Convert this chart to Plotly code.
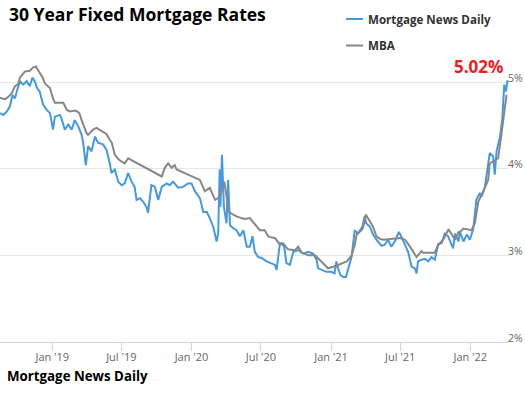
import plotly.graph_objects as go

# ---- data ----
mnd_dates = [
    "2018-08-17", "2018-08-26", "2018-09-04", "2018-09-12", "2018-09-19", "2018-09-25", "2018-09-30",
    "2018-10-04", "2018-10-08", "2018-10-17", "2018-10-26", "2018-11-03", "2018-11-10", "2018-11-16",
    "2018-11-22", "2018-11-29", "2018-12-08", "2018-12-17", "2018-12-26", "2019-01-03", "2019-01-08",
    "2019-01-21", "2019-01-25", "2019-02-03", "2019-02-12", "2019-02-21", "2019-03-01", "2019-03-10",
    "2019-03-19", "2019-03-23", "2019-03-30", "2019-04-05", "2019-04-14", "2019-04-23", "2019-05-01",
    "2019-05-14", "2019-05-23", "2019-06-01", "2019-06-05", "2019-06-14", "2019-06-23", "2019-07-02",
    "2019-07-10", "2019-07-19", "2019-07-28", "2019-08-05", "2019-08-10", "2019-08-19", "2019-08-27",
    "2019-09-05", "2019-09-09", "2019-09-18", "2019-09-27", "2019-10-06", "2019-10-15", "2019-10-28",
    "2019-11-05", "2019-11-14", "2019-11-27", "2019-12-10", "2019-12-23", "2020-01-01", "2020-01-10",
    "2020-01-23", "2020-02-01", "2020-02-10", "2020-02-18", "2020-02-27", "2020-03-07", "2020-03-11",
    "2020-03-15", "2020-03-17", "2020-03-21", "2020-03-26", "2020-04-02", "2020-04-06", "2020-04-11",
    "2020-04-20", "2020-04-28", "2020-05-07", "2020-05-16", "2020-05-25", "2020-06-02", "2020-06-09",
    "2020-06-15", "2020-06-24", "2020-07-03", "2020-07-16", "2020-07-29", "2020-08-07", "2020-08-11",
    "2020-08-20", "2020-08-24", "2020-08-31", "2020-09-06", "2020-09-15", "2020-09-24", "2020-10-07",
    "2020-10-20", "2020-11-02", "2020-11-15", "2020-11-24", "2020-11-28", "2020-12-07", "2020-12-20",
    "2021-01-02", "2021-01-10", "2021-01-15", "2021-01-19", "2021-01-26", "2021-02-02", "2021-02-09",
    "2021-02-15", "2021-02-24", "2021-03-04", "2021-03-12", "2021-03-24", "2021-03-30", "2021-04-03",
    "2021-04-13", "2021-04-21", "2021-04-30", "2021-05-13", "2021-05-21", "2021-05-30", "2021-06-08",
    "2021-06-17", "2021-06-28", "2021-07-05", "2021-07-14", "2021-07-22", "2021-07-31", "2021-08-09",
    "2021-08-13", "2021-08-17", "2021-08-26", "2021-09-04", "2021-09-13", "2021-09-21", "2021-09-30",
    "2021-10-09", "2021-10-18", "2021-10-26", "2021-11-04", "2021-11-17", "2021-11-22", "2021-12-01",
    "2021-12-05", "2021-12-14", "2021-12-23", "2021-12-31", "2022-01-09", "2022-01-17", "2022-01-26",
    "2022-01-31", "2022-02-08", "2022-02-17", "2022-02-21", "2022-03-02", "2022-03-06", "2022-03-11",
    "2022-03-20", "2022-03-26", "2022-03-31", "2022-04-04", "2022-04-09",
]
mnd_rates = [
    4.64, 4.62, 4.66, 4.72, 4.85, 4.81, 4.89,
    4.95, 5.01, 4.97, 5.01, 4.95, 5.05, 5.01,
    4.93, 4.89, 4.74, 4.68, 4.64, 4.45, 4.60,
    4.62, 4.58, 4.45, 4.51, 4.45, 4.56, 4.49,
    4.39, 4.30, 4.04, 4.26, 4.20, 4.37, 4.30,
    4.28, 4.22, 4.06, 3.95, 3.99, 3.85, 3.81,
    3.83, 3.95, 3.85, 3.79, 3.64, 3.66, 3.62,
    3.56, 3.49, 3.81, 3.79, 3.64, 3.79, 3.83,
    3.81, 3.85, 3.78, 3.79, 3.83, 3.83, 3.74,
    3.66, 3.50, 3.50, 3.43, 3.33, 3.16, 3.25,
    3.99, 3.56, 4.16, 3.56, 3.37, 3.87, 3.35,
    3.31, 3.29, 3.22, 3.29, 3.10, 3.10, 3.22,
    3.04, 2.98, 2.97, 2.93, 2.91, 2.89, 2.83,
    3.14, 3.14, 3.10, 2.91, 2.89, 3.04, 3.06,
    3.02, 3.04, 3.02, 2.95, 2.85, 2.83, 2.81,
    2.81, 2.79, 2.93, 2.85, 2.77, 2.75, 2.75,
    2.84, 2.99, 3.29, 3.25, 3.33, 3.45, 3.37,
    3.33, 3.24, 3.18, 3.11, 3.12, 3.18, 3.10,
    3.16, 3.27, 3.21, 3.12, 3.04, 2.87, 2.85,
    2.79, 2.93, 2.95, 2.96, 2.93, 2.98, 2.95,
    3.13, 3.14, 3.25, 3.22, 3.08, 3.25, 3.16,
    3.27, 3.16, 3.24, 3.18, 3.31, 3.64, 3.72,
    3.68, 3.78, 4.10, 4.18, 4.14, 3.93, 4.20,
    4.37, 4.58, 4.97, 4.89, 5.02,
]

mba_dates = [
    "2018-08-17", "2018-08-26", "2018-08-30", "2018-09-08", "2018-09-17", "2018-09-25", "2018-10-04",
    "2018-10-08", "2018-10-15", "2018-10-21", "2018-11-03", "2018-11-12", "2018-11-19", "2018-11-28",
    "2018-12-07", "2018-12-13", "2018-12-26", "2019-01-03", "2019-01-08", "2019-01-21", "2019-01-30",
    "2019-02-08", "2019-02-16", "2019-03-04", "2019-03-13", "2019-03-19", "2019-04-01", "2019-04-05",
    "2019-04-18", "2019-04-27", "2019-05-10", "2019-05-23", "2019-06-01", "2019-06-06", "2019-06-14",
    "2019-06-23", "2019-07-02", "2019-07-10", "2019-07-19", "2019-10-15", "2019-10-23", "2019-11-01",
    "2019-11-10", "2019-11-18", "2019-11-23", "2020-01-23", "2020-02-05", "2020-02-18", "2020-03-03",
    "2020-03-11", "2020-03-20", "2020-03-27", "2020-04-02", "2020-04-06", "2020-04-15", "2020-04-28",
    "2020-05-11", "2020-05-20", "2020-06-02", "2020-06-10", "2020-06-15", "2020-06-24", "2020-06-28",
    "2020-07-11", "2020-07-20", "2020-07-25", "2020-08-07", "2020-08-20", "2020-08-28", "2020-09-10",
    "2020-09-28", "2020-10-07", "2020-10-16", "2020-10-24", "2020-11-02", "2020-11-20", "2020-12-07",
    "2020-12-24", "2021-01-15", "2021-02-02", "2021-02-11", "2021-02-19", "2021-02-24", "2021-03-04",
    "2021-03-09", "2021-03-22", "2021-03-26", "2021-04-02", "2021-04-13", "2021-04-21", "2021-04-30",
    "2021-05-09", "2021-05-18", "2021-07-01", "2021-07-14", "2021-07-27", "2021-08-13", "2021-08-26",
    "2021-08-30", "2021-09-13", "2021-09-30", "2021-10-09", "2021-10-13", "2021-10-22", "2021-11-05",
    "2021-11-17", "2021-11-22", "2021-12-01", "2021-12-05", "2021-12-14", "2021-12-27", "2022-01-04",
    "2022-01-13", "2022-01-22", "2022-01-31", "2022-02-08", "2022-02-17", "2022-02-21", "2022-03-06",
    "2022-03-15", "2022-03-24", "2022-04-02", "2022-04-06",
]
mba_rates = [
    4.82, 4.81, 4.80, 4.83, 4.87, 4.95, 4.98,
    5.05, 5.09, 5.12, 5.13, 5.17, 5.18, 5.12,
    5.05, 4.98, 4.93, 4.81, 4.76, 4.76, 4.76,
    4.68, 4.66, 4.67, 4.64, 4.56, 4.41, 4.39,
    4.45, 4.47, 4.43, 4.40, 4.33, 4.30, 4.16,
    4.11, 4.08, 4.06, 4.12, 3.91, 4.01, 4.06,
    4.01, 4.04, 3.99, 3.87, 3.74, 3.78, 3.64,
    3.66, 3.74, 3.85, 3.68, 3.51, 3.48, 3.45,
    3.43, 3.42, 3.43, 3.39, 3.36, 3.31, 3.29,
    3.29, 3.22, 3.21, 3.20, 3.12, 3.14, 3.07,
    3.06, 3.10, 3.03, 3.02, 3.00, 3.00, 2.92,
    2.85, 2.88, 2.91, 2.93, 2.97, 3.00, 3.12,
    3.24, 3.29, 3.32, 3.47, 3.38, 3.33, 3.22,
    3.19, 3.18, 3.20, 3.18, 3.10, 2.98, 3.05,
    3.03, 3.03, 3.03, 3.12, 3.14, 3.18, 3.30,
    3.22, 3.18, 3.27, 3.27, 3.31, 3.30, 3.29,
    3.37, 3.62, 3.70, 3.78, 3.87, 4.06, 4.10,
    4.12, 4.41, 4.68, 4.85,
]

series_names = ["Mortgage News Daily", "MBA"]
x_tick_dates = ["2019-01-01", "2019-07-01", "2020-01-01", "2020-07-01",
                "2021-01-01", "2021-07-01", "2022-01-01"]
x_tick_labels = ["Jan '19", "Jul '19", "Jan '20", "Jul '20", "Jan '21", "Jul '21", "Jan '22"]
y_ticks = [2, 3, 4, 5]
y_tick_labels = ["2%", "3%", "4%", "5%"]
title_text = "30 Year Fixed Mortgage Rates"
source_text = "Mortgage News Daily"
latest_label = "5.02%"

# ---- styling ----
BLUE = "#4499e4"
GRAY = "#878787"
W, H = 525, 393
ML, MR, MT, MB = 0, 16, 56, 51
PW = W - ML - MR
PH = H - MT - MB


def px_x(p):
    return (p - ML) / PW


def px_y(p):
    return (H - MB - p) / PH


fig = go.Figure()
fig.add_trace(go.Scatter(x=mnd_dates, y=mnd_rates, mode="lines", name=series_names[0],
                         line=dict(color=BLUE, width=2), showlegend=False))
fig.add_trace(go.Scatter(x=mba_dates, y=mba_rates, mode="lines", name=series_names[1],
                         line=dict(color=GRAY, width=2), showlegend=False))

font_main = "Open Sans, Noto Sans, sans-serif"

annotations = [
    dict(text="<b>" + title_text + "</b>", x=px_x(7), y=px_y(14), xref="paper", yref="paper",
         xanchor="left", yanchor="middle", showarrow=False,
         font=dict(family=font_main, size=17.5, color="#000000")),
    dict(text="<b>" + source_text + "</b>", x=px_x(5), y=px_y(376), xref="paper", yref="paper",
         xanchor="left", yanchor="middle", showarrow=False,
         font=dict(family=font_main, size=13.3, color="#000000")),
    dict(text="<b>" + series_names[0] + "</b>", x=px_x(366), y=px_y(19), xref="paper", yref="paper",
         xanchor="left", yanchor="middle", showarrow=False,
         font=dict(family=font_main, size=11.6, color="#333333")),
    dict(text="<b>" + series_names[1] + "</b>", x=px_x(366), y=px_y(45.5), xref="paper", yref="paper",
         xanchor="left", yanchor="middle", showarrow=False,
         font=dict(family=font_main, size=11.6, color="#333333")),
    dict(text="<b>" + latest_label + "</b>", x=mnd_dates[-1], y=mnd_rates[-1], xref="x", yref="y",
         xanchor="right", yanchor="bottom", xshift=-3, yshift=0, showarrow=False,
         font=dict(family=font_main, size=17, color="#ee1c25")),
]

shapes = [
    dict(type="line", xref="paper", yref="paper", x0=px_x(346), x1=px_x(363), y0=px_y(19), y1=px_y(19),
         line=dict(color=BLUE, width=2)),
    dict(type="line", xref="paper", yref="paper", x0=px_x(346), x1=px_x(363), y0=px_y(45.5), y1=px_y(45.5),
         line=dict(color=GRAY, width=2)),
]

fig.update_layout(
    width=W, height=H,
    margin=dict(l=ML, r=MR, t=MT, b=MB, pad=0),
    paper_bgcolor="white", plot_bgcolor="white",
    font=dict(family=font_main, color="#666666", size=11),
    annotations=annotations,
    shapes=shapes,
    showlegend=False,
    xaxis=dict(
        type="date",
        range=["2018-08-17", "2022-04-12 12:00"],
        tickvals=x_tick_dates, ticktext=x_tick_labels,
        showgrid=False, zeroline=False,
        showline=True, linecolor="#ccd6eb", linewidth=1,
        ticks="outside", ticklen=8, tickcolor="#ccd6eb", tickwidth=1,
        ticklabelstandoff=-3,
        tickfont=dict(size=11, color="#666666"),
        fixedrange=True,
    ),
    yaxis=dict(
        side="right",
        range=[2, 5.3],
        tickvals=y_ticks, ticktext=y_tick_labels,
        showgrid=True, gridcolor="#e6e6e6", gridwidth=1,
        zeroline=False, showline=False,
        ticks="", ticklabelshift=-4, ticklabelstandoff=-2,
        tickfont=dict(size=10.5, color="#666666"),
        fixedrange=True,
    ),
)

fig.write_html("out.html", config={"displayModeBar": False},
               post_script="document.body.style.margin='0';document.body.style.overflow='hidden';")
